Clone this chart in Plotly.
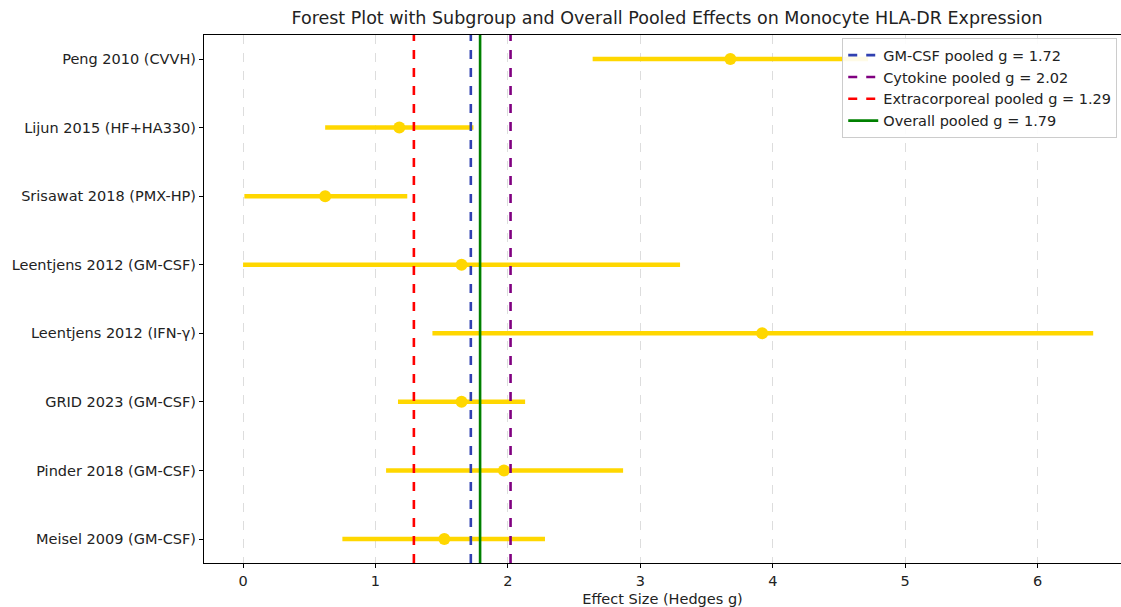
import plotly.graph_objects as go

studies = ["Meisel 2009 (GM-CSF)", "Pinder 2018 (GM-CSF)", "GRID 2023 (GM-CSF)",
           "Leentjens 2012 (IFN-γ)", "Leentjens 2012 (GM-CSF)", "Srisawat 2018 (PMX-HP)",
           "Lijun 2015 (HF+HA330)", "Peng 2010 (CVVH)"]
effects = [1.52, 1.97, 1.65, 3.92, 1.65, 0.62, 1.18, 3.68]
ci_low = [0.75, 1.08, 1.17, 1.43, 0.00, 0.01, 0.62, 2.64]
ci_high = [2.28, 2.87, 2.13, 6.42, 3.30, 1.24, 1.74, 4.72]

pooled_labels = ["GM-CSF pooled g = 1.72", "Cytokine pooled g = 2.02",
                 "Extracorporeal pooled g = 1.29", "Overall pooled g = 1.79"]
pooled_values = [1.72, 2.02, 1.29, 1.79]
pooled_colors = ["#3040b0", "#800080", "#ff0000", "#008000"]
pooled_dash = ["dash", "dash", "dash", "solid"]

ypos = list(range(len(studies)))
y_range = [-0.35, len(studies) - 1 + 0.35]

fig = go.Figure()
fig.add_trace(go.Scatter(
    x=effects, y=ypos, mode="markers",
    marker=dict(color="#FFD700", size=12),
    error_x=dict(type="data", symmetric=False,
                 array=[h - e for h, e in zip(ci_high, effects)],
                 arrayminus=[e - l for e, l in zip(effects, ci_low)],
                 color="#FFD700", thickness=4.5, width=0),
    showlegend=False,
))
for lab, val, col, dsh in zip(pooled_labels, pooled_values, pooled_colors, pooled_dash):
    fig.add_trace(go.Scatter(
        x=[val, val], y=y_range, mode="lines", name=lab,
        line=dict(color=col, width=2.6, dash=dsh),
    ))

fig.update_layout(
    width=1121, height=607,
    margin=dict(l=204, r=0, t=35, b=44),
    paper_bgcolor="white", plot_bgcolor="white",
    font=dict(family="DejaVu Sans", size=14.5, color="#222222"),
    title=dict(text="Forest Plot with Subgroup and Overall Pooled Effects on Monocyte HLA-DR Expression",
               x=0.595, xanchor="center", y=0.97, yanchor="middle",
               font=dict(size=17.5, color="#222222")),
    legend=dict(x=0.696, xanchor="left", y=0.994, yanchor="top",
                bgcolor="rgba(255,255,255,0.9)", bordercolor="#cccccc", borderwidth=1,
                font=dict(size=14.5), tracegroupgap=0, itemwidth=30),
    showlegend=True,
)
fig.update_xaxes(
    range=[-0.295, 6.63], tickmode="array", tickvals=[0, 1, 2, 3, 4, 5, 6],
    showgrid=True, gridcolor="#dddddd", griddash="dash", gridwidth=1,
    zeroline=False, showline=True, linecolor="black", linewidth=1.2, mirror=True,
    ticks="outside", ticklen=4, tickcolor="black", automargin=False,
    title=dict(text="Effect Size (Hedges g)", standoff=8, font=dict(size=14.5)),
)
fig.update_yaxes(
    range=y_range, tickmode="array", tickvals=ypos, ticktext=studies,
    showgrid=False, zeroline=False, showline=True, linecolor="black", linewidth=1.2, mirror=True,
    ticks="outside", ticklen=4, tickcolor="black", automargin=False,
)

fig.write_html("out.html", config={"displayModeBar": False},
               post_script="document.body.style.margin='0';document.body.style.padding='0';")
